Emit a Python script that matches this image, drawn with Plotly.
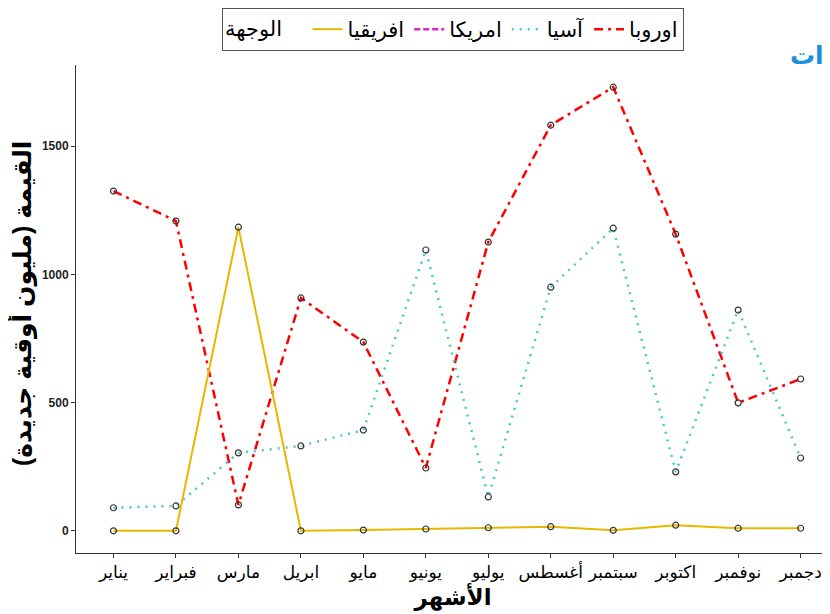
import plotly.graph_objects as go

months = ["يناير", "فبراير", "مارس", "ابريل", "مايو", "يونيو",
          "يوليو", "أغسطس", "سبتمبر", "اكتوبر", "نوفمبر", "دجمبر"]
europe = [1325, 1208, 101, 908, 736, 245, 1126, 1582, 1730, 1157, 499, 592]
asia = [90, 97, 304, 331, 393, 1095, 132, 950, 1180, 230, 861, 284]
america = [None] * 12
africa = [0, 0, 1184, 0, 3, 7, 12, 16, 2, 22, 10, 10]
y_ticks = [0, 500, 1000, 1500]

series = [
    ("اوروبا", europe, dict(color="#FF0000", width=2.5, dash="9px,5px,3px,5px")),
    ("آسيا", asia, dict(color="#48C9C8", width=2.5, dash="2px,6px")),
    ("امريكا", america, dict(color="#E020C8", width=2.5, dash="6px,3px")),
    ("افريقيا", africa, dict(color="#E7B800", width=2)),
]

FONT = "Liberation Sans, DejaVu Sans, Arial, sans-serif"
marker = dict(symbol="circle-open", size=6, color="#333333", line=dict(width=1.2))

fig = go.Figure()
for name, vals, line in series:
    fig.add_trace(go.Scatter(x=months, y=vals, name=name, mode="lines", line=line))
for name, vals, line in series:
    fig.add_trace(go.Scatter(x=months, y=vals, name=name, mode="markers",
                             marker=marker, showlegend=False, hoverinfo="skip"))

W, H = 822, 606
L, T, B = 68, 57, 61
PH = H - T - B
PW = W - L

fig.update_layout(
    width=W, height=H,
    margin=dict(l=L, r=0, t=T, b=B, autoexpand=False),
    paper_bgcolor="white", plot_bgcolor="white",
    font=dict(family=FONT, color="black"),
    showlegend=True,
    legend=dict(
        orientation="h", x=(214 - L) / PW, y=1 + T / PH, xanchor="left", yanchor="top",
        traceorder="reversed",
        title=dict(text="الوجهة   ", font=dict(size=21), side="left"),
        font=dict(size=21),
        bordercolor="#555555", borderwidth=1, bgcolor="white",
        itemwidth=30,
    ),
    xaxis=dict(
        type="category", categoryorder="array", categoryarray=months,
        range=[-0.6, 11.47], automargin=False,
        showline=True, linecolor="#333333", linewidth=1,
        showgrid=False, zeroline=False,
        ticks="outside", ticklen=4, tickcolor="#333333", tickangle=0,
        tickfont=dict(size=17, color="black"),
        title=dict(text="<b>الأشهر</b>", font=dict(size=23), standoff=1),
    ),
    yaxis=dict(
        range=[-86.5, 1816.5], automargin=False,
        tickvals=y_ticks, ticktext=[str(v) for v in y_ticks],
        showline=True, linecolor="#333333", linewidth=1,
        showgrid=False, zeroline=False,
        ticks="outside", ticklen=4, tickcolor="#333333",
        tickfont=dict(size=12, color="#222222", family=FONT, weight="bold"),
    ),
    annotations=[
        dict(
            text="<b>القيمة (مليون أوقية جديدة)</b>", xref="paper", yref="paper",
            x=(14 - L) / PW, y=(545 - 296) / PH, xanchor="center", yanchor="middle",
            textangle=-90, showarrow=False, font=dict(size=25, color="black"),
        ),
        dict(
            text="<b>الصادرات</b>", xref="paper", yref="paper",
            x=(780 - L) / PW, y=1 + (T - 47) / PH, xanchor="left", yanchor="middle",
            showarrow=False, font=dict(size=25, color="#1A8FDB"),
        ),
    ],
)

fig.write_html("out.html")
